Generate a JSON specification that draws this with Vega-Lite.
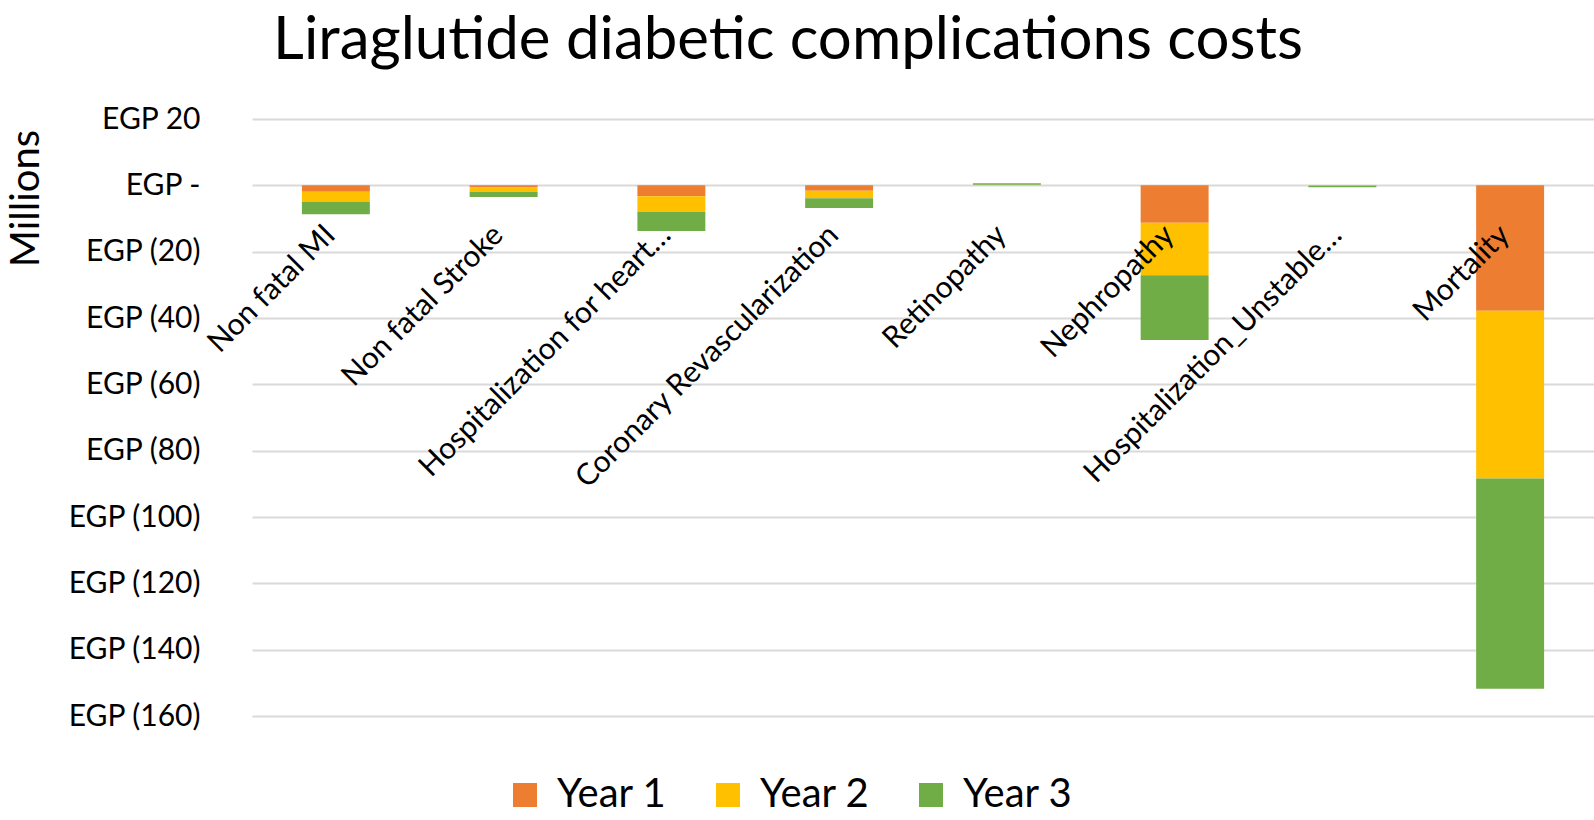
{
  "$schema": "https://vega.github.io/schema/vega-lite/v6.json",
  "autosize": {"type": "none"},
  "padding": {"left": 252, "top": 119, "right": 0, "bottom": 104},
  "width": 1342,
  "height": 597,
  "background": "white",
  "config": {
    "font": "Lato",
    "view": {"stroke": null}
  },
  "title": {
    "text": "Liraglutide diabetic complications costs",
    "frame": "group",
    "anchor": "middle",
    "baseline": "alphabetic",
    "offset": -15,
    "dx": -135,
    "fontSize": 60,
    "fontWeight": "normal",
    "font": "Lato",
    "color": "#000000"
  },
  "data": {
    "values": [
      {"category": "Non fatal MI", "year": "Year 1", "value": -1.9},
      {"category": "Non fatal MI", "year": "Year 2", "value": -3.1},
      {"category": "Non fatal MI", "year": "Year 3", "value": -3.7},
      {"category": "Non fatal Stroke", "year": "Year 1", "value": -0.6},
      {"category": "Non fatal Stroke", "year": "Year 2", "value": -1.3},
      {"category": "Non fatal Stroke", "year": "Year 3", "value": -1.6},
      {"category": "Hospitalization for heart…", "year": "Year 1", "value": -3.3},
      {"category": "Hospitalization for heart…", "year": "Year 2", "value": -4.7},
      {"category": "Hospitalization for heart…", "year": "Year 3", "value": -5.8},
      {"category": "Coronary Revascularization", "year": "Year 1", "value": -1.6},
      {"category": "Coronary Revascularization", "year": "Year 2", "value": -2.3},
      {"category": "Coronary Revascularization", "year": "Year 3", "value": -2.9},
      {"category": "Retinopathy", "year": "Year 1", "value": 0.05},
      {"category": "Retinopathy", "year": "Year 2", "value": 0.1},
      {"category": "Retinopathy", "year": "Year 3", "value": 0.45},
      {"category": "Nephropathy", "year": "Year 1", "value": -11.3},
      {"category": "Nephropathy", "year": "Year 2", "value": -15.8},
      {"category": "Nephropathy", "year": "Year 3", "value": -19.5},
      {"category": "Hospitalization_Unstable…", "year": "Year 1", "value": -0.05},
      {"category": "Hospitalization_Unstable…", "year": "Year 2", "value": -0.1},
      {"category": "Hospitalization_Unstable…", "year": "Year 3", "value": -0.4},
      {"category": "Mortality", "year": "Year 1", "value": -37.8},
      {"category": "Mortality", "year": "Year 2", "value": -50.6},
      {"category": "Mortality", "year": "Year 3", "value": -63.4}
    ]
  },
  "mark": {"type": "bar"},
  "encoding": {
    "x": {
      "field": "category",
      "type": "nominal",
      "sort": ["Non fatal MI", "Non fatal Stroke", "Hospitalization for heart…", "Coronary Revascularization", "Retinopathy", "Nephropathy", "Hospitalization_Unstable…", "Mortality"],
      "scale": {"paddingInner": 0.595, "paddingOuter": 0.2975},
      "axis": {
        "title": null,
        "orient": "bottom",
        "offset": -530.67,
        "zindex": 1,
        "domain": false,
        "ticks": false,
        "tickSize": 0,
        "grid": false,
        "labelAngle": -45,
        "labelAlign": "right",
        "labelBaseline": "alphabetic",
        "labelPadding": 51,
        "labelOffset": 1,
        "labelFontSize": 30,
        "labelColor": "#000000",
        "labelLimit": 1000,
        "labelOverlap": false
      }
    },
    "y": {
      "field": "value",
      "type": "quantitative",
      "aggregate": "sum",
      "stack": "zero",
      "scale": {"domain": [-160, 20], "nice": false, "zero": false},
      "axis": {
        "values": [20, 0, -20, -40, -60, -80, -100, -120, -140, -160],
        "labelExpr": "datum.value == 0 ? 'EGP -' : (datum.value < 0 ? 'EGP (' + abs(datum.value) + ')' : 'EGP ' + datum.value)",
        "domain": false,
        "ticks": false,
        "tickSize": 0,
        "labelPadding": 52,
        "labelFontSize": 30,
        "labelColor": "#000000",
        "labelBaseline": "middle",
        "gridColor": "#d9d9d9",
        "gridWidth": 2,
        "title": "Millions",
        "titleFontSize": 40,
        "titleFontWeight": "normal",
        "titleColor": "#000000",
        "titleAngle": -90,
        "titleAlign": "center",
        "titleBaseline": "middle",
        "titleX": -226,
        "titleY": 79
      }
    },
    "color": {
      "field": "year",
      "type": "nominal",
      "scale": {"domain": ["Year 1", "Year 2", "Year 3"], "range": ["#ED7D31", "#FFC000", "#70AD47"]},
      "legend": {
        "title": null,
        "orient": "none",
        "direction": "horizontal",
        "legendX": 253,
        "legendY": 656,
        "padding": 0,
        "symbolType": "square",
        "symbolSize": 576,
        "symbolStrokeWidth": 0,
        "symbolOpacity": 1,
        "labelFontSize": 40,
        "labelColor": "#000000",
        "labelOffset": 12,
        "columnPadding": 41,
        "labelLimit": 500
      }
    },
    "order": {"field": "year", "type": "nominal", "sort": "ascending"}
  }
}
